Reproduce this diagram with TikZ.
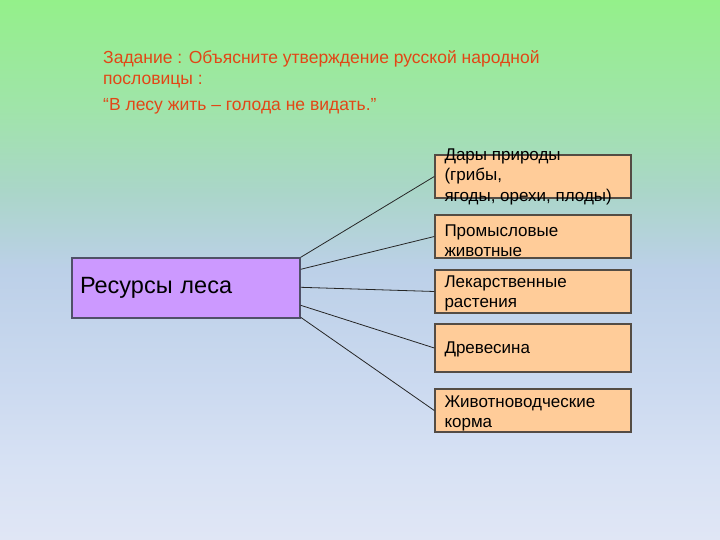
\documentclass[tikz,border=0pt]{standalone}
\usepackage{fontspec}
\setmainfont{Liberation Sans}
\usetikzlibrary{positioning}

\definecolor{bgA}{RGB}{224,230,245}
\definecolor{bgB}{RGB}{216,226,244}
\definecolor{bgC}{RGB}{204,218,240}
\definecolor{bgD}{RGB}{188,208,232}
\definecolor{bgE}{RGB}{170,214,200}
\definecolor{bgF}{RGB}{160,228,170}
\definecolor{bgG}{RGB}{148,240,138}
\definecolor{taskred}{RGB}{226,70,22}
\definecolor{resfill}{RGB}{204,153,255}
\definecolor{resline}{RGB}{80,80,104}
\definecolor{itemfill}{RGB}{255,204,153}
\definecolor{itemline}{RGB}{84,76,68}

\pgfdeclareverticalshading{slidebg}{100bp}{color(0bp)=(bgA); color(25bp)=(bgA);
  color(31.5bp)=(bgB); color(38.9bp)=(bgC); color(50bp)=(bgD); color(57.4bp)=(bgE);
  color(64.8bp)=(bgF); color(75bp)=(bgG); color(100bp)=(bgG)}

\tikzset{
  task/.style={anchor=base west, inner sep=0pt, text=taskred, font=\fontsize{17.5}{21}\selectfont},
  resbox/.style={draw=resline, line width=1.4pt, fill=resfill, minimum height=60pt,
    text width=212pt, inner xsep=8pt, inner ysep=0pt, align=left,
    font=\fontsize{23.5}{28}\selectfont},
  itembox/.style={draw=itemline, line width=1.4pt, fill=itemfill, minimum width=196pt, inner sep=0pt},
  itemtext/.style={anchor=west, inner sep=0pt, align=left, font=\fontsize{17}{20.5}\selectfont},
  link/.style={draw=black!85, line width=0.8pt},
}

\begin{document}
\begin{tikzpicture}[x=1pt,y=-1pt]
  \shade[shading=slidebg, use as bounding box] (0,0) rectangle (720,540);

  % task text
  \node[task] (task1) at (103,64) {Задание : Объясните утверждение русской народной};
  \node[task] (task2) at (103,85) {пословицы :};
  \node[task] (proverb) at (103,111) {“В лесу жить – голода не видать.”};

  % main box
  \node[resbox] (res) at (186,288) {Ресурсы леса};

  % right column
  \foreach \name/\y/\h/\dy/\off/\txt in {
      gifts/176.5/43/0/0/{Дары природы\\(грибы,\\ягоды, орехи, плоды)},
      game/236.5/43/4/12/{Промысловые\\животные},
      herbs/291.5/43/2/30/{Лекарственные\\растения},
      wood/348/48/1/48/{Древесина},
      fodder/410.5/43/3/60/{Животноводческие\\корма}}
  {
    \node[itembox, minimum height=\h pt] (\name) at (533,\y) {};
    \node[itemtext] (\name-t) at ([xshift=10pt, yshift=-\dy pt]\name.west) {\txt};
    \draw[link] ([yshift=-\off pt]res.north east) -- (\name.west);
  }
\end{tikzpicture}
\end{document}
